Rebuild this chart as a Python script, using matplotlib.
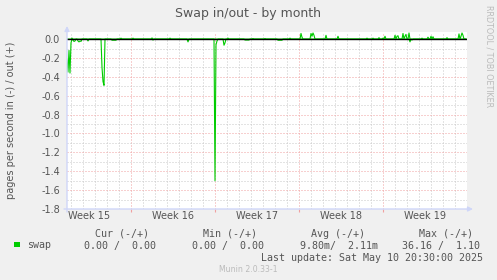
import numpy as np
import matplotlib.pyplot as plt
from matplotlib.patches import Rectangle, FancyArrowPatch
from matplotlib.ticker import MultipleLocator

plt.rcParams['axes.unicode_minus'] = False

# month graph: 400 samples of 2 hours, time in days from Mon 14 Apr 2025 00:00
t_start = -5.36
n_samples = 400
step = 1 / 12

# non-zero samples (sample index -> pages/s), swap in is drawn negative
swap_in = {0: -0.22, 1: -0.35, 2: -0.12, 3: -0.36, 4: -0.04,
           6: -0.01, 7: -0.025, 8: -0.02,
           11: -0.02, 12: -0.03, 13: -0.02, 14: -0.025, 21: -0.02,
           35: -0.3, 36: -0.45, 37: -0.49,
           45: -0.012, 46: -0.012, 47: -0.012, 48: -0.012, 49: -0.012,
           86: -0.01, 121: -0.03,
           148: -1.5, 149: -0.06, 150: -0.02,
           157: -0.065, 158: -0.04,
           178: -0.01, 179: -0.01, 180: -0.01, 181: -0.01, 182: -0.01,
           211: -0.012, 212: -0.012, 213: -0.012, 214: -0.012, 215: -0.012,
           343: -0.03, 345: -0.01}
swap_out = {5: 0.01, 54: 0.01, 66: 0.01, 85: 0.012, 103: 0.01, 161: 0.01,
            186: 0.006, 198: 0.006, 223: 0.01, 234: 0.06, 235: 0.02,
            244: 0.06, 245: 0.03, 246: 0.065, 247: 0.04, 259: 0.04, 271: 0.03,
            300: 0.01, 306: 0.01, 312: 0.015, 316: 0.01, 318: 0.03,
            328: 0.04, 330: 0.03, 331: 0.035, 336: 0.06, 338: 0.03, 339: 0.05,
            342: 0.065, 355: 0.01, 361: 0.02, 364: 0.03, 366: 0.025,
            380: 0.015, 392: 0.055, 394: 0.03, 395: 0.065, 396: 0.04}

weeks = [15, 16, 17, 18, 19]
week_starts = [-7, 0, 7, 14, 21]

legend_cols = ['Cur (-/+)', 'Min (-/+)', 'Avg (-/+)', 'Max (-/+)']
legend_vals = ['0.00 /  0.00', '0.00 /  0.00', '9.80m/  2.11m', '36.16 /  1.10']
last_update = 'Last update: Sat May 10 20:30:00 2025'

W, H = 497, 280
GREEN = '#00CC00'
FONT = '#555555'
ARROW = '#CFD6F8'


def fx(px):
    return px / W


def fy(py):
    return 1 - py / H


t = t_start + np.arange(n_samples) * step
v_in = np.zeros(n_samples)
v_out = np.zeros(n_samples)
for k, v in swap_in.items():
    v_in[k] = v
for k, v in swap_out.items():
    v_out[k] = v

fig = plt.figure(figsize=(W / 100, H / 100), dpi=100, facecolor='#F0F0F0')
ax = fig.add_axes([fx(67), fy(209), 400 / W, 177 / H])
ax.set_facecolor('white')
for s in ax.spines.values():
    s.set_visible(False)

ax.plot(t, v_out, color=GREEN, lw=0.8, zorder=3)
ax.plot(t, v_in, color=GREEN, lw=0.8, zorder=3)
ax.axhline(0, color='black', lw=1.0, zorder=4)

ax.set_xticks(week_starts)
ax.xaxis.set_minor_locator(MultipleLocator(1))
ax.set_xticklabels([])
yt = np.arange(-1.8, 0.01, 0.2)
ax.set_yticks(yt)
ax.set_yticklabels(['%.1f' % v if abs(v) > 1e-9 else '0.0' for v in yt])
ax.yaxis.set_minor_locator(MultipleLocator(0.1))
ax.set_xlim(t_start, t_start + n_samples * step)
ax.set_ylim(-1.8, 0.075)

ax.tick_params(axis='x', which='major', length=2, color='#F0A0A0')
ax.tick_params(axis='x', which='minor', length=0)
ax.tick_params(axis='y', which='both', length=0, pad=5, labelsize=7, labelcolor=FONT)

dots = (0, (1, 2))
ax.grid(which='minor', color='#C8C8C8', lw=0.72, ls=dots)
ax.grid(which='major', color='#F0A0A0', lw=0.72, ls=dots)
ax.set_axisbelow(True)

for w, ws in zip(weeks, week_starts):
    ax.text(ws + 3.5, -10 / 177, 'Week %d' % w, transform=ax.get_xaxis_transform(),
            ha='center', va='baseline', fontsize=7, color=FONT)

# axis arrows
arrow = dict(arrowstyle='-|>', color=ARROW, lw=1, mutation_scale=7, shrinkA=0, shrinkB=0)
fig.add_artist(FancyArrowPatch((fx(67), fy(212)), (fx(67), fy(26)),
                               transform=fig.transFigure, **arrow))
fig.add_artist(FancyArrowPatch((fx(64), fy(209)), (fx(473), fy(209)),
                               transform=fig.transFigure, **arrow))

fig.text(fx(248), fy(17), 'Swap in/out - by month', ha='center', va='baseline',
         fontsize=9, color=FONT)
fig.text(fx(11.5), fy(120.5), 'pages per second in (-) / out (+)', rotation=90,
         ha='center', va='center', fontsize=7, color=FONT)
fig.text(fx(489), fy(5), 'RRDTOOL / TOBI OETIKER', rotation=270, ha='center', va='top',
         fontsize=5.8, color='#BBBBBB')

mono = dict(family='DejaVu Sans Mono', fontsize=7.2, color=FONT, va='baseline')
fig.text(fx(95), fy(237), (' ' * 9).join(legend_cols), **mono)
vals = legend_vals[0] + ' ' * 6 + legend_vals[1] + ' ' * 6 + legend_vals[2] + ' ' * 4 + legend_vals[3]
fig.text(fx(84), fy(248.5), vals, **mono)
fig.text(fx(27), fy(248.5), 'swap', **mono)
fig.add_artist(Rectangle((fx(14), fy(247)), 5.5 / W, 5.5 / H, transform=fig.transFigure,
                         facecolor=GREEN, edgecolor='none'))
fig.text(fx(483), fy(261), last_update, ha='right', **mono)
fig.text(fx(248), fy(272), 'Munin 2.0.33-1', ha='center', va='baseline', fontsize=5.6,
         color='#BBBBBB')

fig.savefig('out.png', dpi=100, facecolor=fig.get_facecolor())
